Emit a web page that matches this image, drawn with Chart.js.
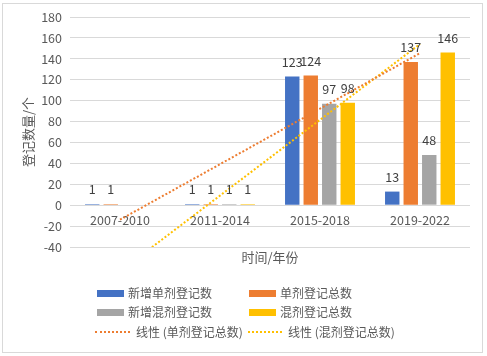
<!DOCTYPE html>
<html>
<head>
<meta charset="utf-8">
<script src="https://cdn.jsdelivr.net/npm/chart.js@4/dist/chart.umd.min.js"></script>
<style>
  html, body { margin: 0; padding: 0; background: #fff; }
  body { width: 487px; height: 356px; position: relative; overflow: hidden; font-family: "Noto Sans CJK SC", "Noto Sans", sans-serif; }
  #frame { position: absolute; left: 2px; top: 3px; width: 479px; height: 348px; border: 1px solid #d9d9d9; }
  #wrap { position: absolute; left: 0; top: 0; width: 487px; height: 356px; }
  .lg { position: absolute; font-size: 12px; color: #595959; line-height: 14px; white-space: nowrap; }
  .box { position: absolute; width: 27px; height: 7px; }
  .dot { position: absolute; height: 0; border-top: 2px dotted; }
</style>
</head>
<body>
<div id="frame"></div>
<div id="wrap"><canvas id="c" width="487" height="356"></canvas></div>
<div id="legend"></div>
<script>
const categories = ['2007-2010', '2011-2014', '2015-2018', '2019-2022'];
const seriesNames = ['新增单剂登记数', '单剂登记总数', '新增混剂登记数', '混剂登记总数'];
const newSingle   = [1, 1, 123, 13];
const totalSingle = [1, 1, 124, 137];
const newMix      = [null, 1, 97, 48];
const totalMix    = [null, 1, 98, 146];
const trendNames = ['线性 (单剂登记总数)', '线性 (混剂登记总数)'];
const yTicks = { min: -40, max: 180, step: 20 };
const colors = ['#4472C4', '#ED7D31', '#A5A5A5', '#FFC000'];

// Excel-style linear trendline (least squares over non-blank points, x = 1..n)
function linearTrend(values) {
  const pts = values.map((v, i) => [i + 1, v]).filter(p => p[1] !== null);
  const n = pts.length;
  const mx = pts.reduce((s, p) => s + p[0], 0) / n;
  const my = pts.reduce((s, p) => s + p[1], 0) / n;
  let num = 0, den = 0;
  pts.forEach(p => { num += (p[0] - mx) * (p[1] - my); den += (p[0] - mx) ** 2; });
  const slope = num / den;
  return values.map((_, i) => my + slope * (i + 1 - mx));
}

const FONT = '"Noto Sans CJK SC", "Noto Sans", sans-serif';
const textColor = '#595959';

const barLabels = {
  id: 'barLabels',
  afterDatasetsDraw(chart) {
    const ctx = chart.ctx;
    ctx.save();
    ctx.font = '12.5px ' + FONT;
    ctx.fillStyle = '#404040';
    ctx.textAlign = 'center';
    ctx.textBaseline = 'alphabetic';
    chart.data.datasets.forEach((ds, di) => {
      if (ds.type === 'line') return;
      const meta = chart.getDatasetMeta(di);
      meta.data.forEach((el, i) => {
        const v = ds.data[i];
        if (v === null || v === undefined) return;
        ctx.fillText(String(v), el.x, el.y - 10);
      });
    });
    ctx.restore();
  }
};

const barSeries = [newSingle, totalSingle, newMix, totalMix];
const datasets = barSeries.map((d, i) => ({
  type: 'bar', label: seriesNames[i], data: d, backgroundColor: colors[i],
  xAxisID: 'x', yAxisID: 'y', order: 2,
  categoryPercentage: 0.74, barPercentage: 0.78
}));
datasets.push({
  type: 'line', label: trendNames[0], data: linearTrend(totalSingle),
  borderColor: colors[1], borderWidth: 2, borderDash: [2, 2], pointRadius: 0,
  fill: false, xAxisID: 'x', yAxisID: 'y', order: 0, clip: 0, tension: 0
});
datasets.push({
  type: 'line', label: trendNames[1], data: linearTrend(totalMix),
  borderColor: colors[3], borderWidth: 2, borderDash: [2, 2], pointRadius: 0,
  fill: false, xAxisID: 'x', yAxisID: 'y', order: 0, clip: 0, tension: 0
});

new Chart(document.getElementById('c'), {
  data: { labels: categories, datasets },
  plugins: [barLabels],
  options: {
    responsive: false,
    animation: false,
    devicePixelRatio: 1,
    layout: { padding: { left: 0, right: 17, top: 17, bottom: 86 } },
    plugins: { legend: { display: false }, tooltip: { enabled: false } },
    scales: {
      x: {
        type: 'category', position: { y: 0 }, offset: true,
        grid: { display: false, drawTicks: false }, border: { display: false },
        ticks: { color: textColor, font: { family: FONT, size: 12.5 }, padding: 8, maxRotation: 0 }
      },
      x2: {
        type: 'category', position: 'bottom', offset: true,
        grid: { display: false, drawTicks: false }, border: { display: false },
        ticks: { display: false },
        title: { display: true, text: '时间/年份', color: textColor, font: { family: FONT, size: 13 }, padding: { top: 0, bottom: 5 } },
        afterFit(s) { s.height = 23; }
      },
      y: {
        min: yTicks.min, max: yTicks.max,
        grid: { color: '#d9d9d9', drawTicks: false, lineWidth: 1 },
        border: { display: false },
        ticks: { stepSize: yTicks.step, color: textColor, font: { family: FONT, size: 12.5 }, padding: 8 },
        title: { display: true, text: '登记数量/个', color: textColor, font: { family: FONT, size: 13 }, padding: { top: 20, bottom: 0 } },
        afterFit(s) { s.width = 70; }
      }
    }
  }
});

// Legend (HTML)
const legendItems = [
  { kind: 'box', color: colors[0], text: seriesNames[0], mx: 97, tx: 128, y: 293 },
  { kind: 'box', color: colors[1], text: seriesNames[1], mx: 249, tx: 280, y: 293 },
  { kind: 'box', color: colors[2], text: seriesNames[2], mx: 97, tx: 128, y: 312 },
  { kind: 'box', color: colors[3], text: seriesNames[3], mx: 249, tx: 280, y: 312 },
  { kind: 'dot', color: colors[1], text: trendNames[0], mx: 95, tx: 136, y: 332, w: 35 },
  { kind: 'dot', color: colors[3], text: trendNames[1], mx: 248, tx: 288, y: 332, w: 34 }
];
const lg = document.getElementById('legend');
legendItems.forEach(it => {
  const m = document.createElement('div');
  if (it.kind === 'box') {
    m.className = 'box';
    m.style.left = it.mx + 'px'; m.style.top = (it.y - 3.5) + 'px';
    m.style.background = it.color;
  } else {
    m.className = 'dot';
    m.style.left = it.mx + 'px'; m.style.top = (it.y - 1) + 'px';
    m.style.width = it.w + 'px'; m.style.borderTopColor = it.color;
  }
  lg.appendChild(m);
  const t = document.createElement('div');
  t.className = 'lg';
  t.style.left = it.tx + 'px'; t.style.top = (it.y - 7) + 'px';
  t.textContent = it.text;
  lg.appendChild(t);
});
</script>
</body>
</html>
